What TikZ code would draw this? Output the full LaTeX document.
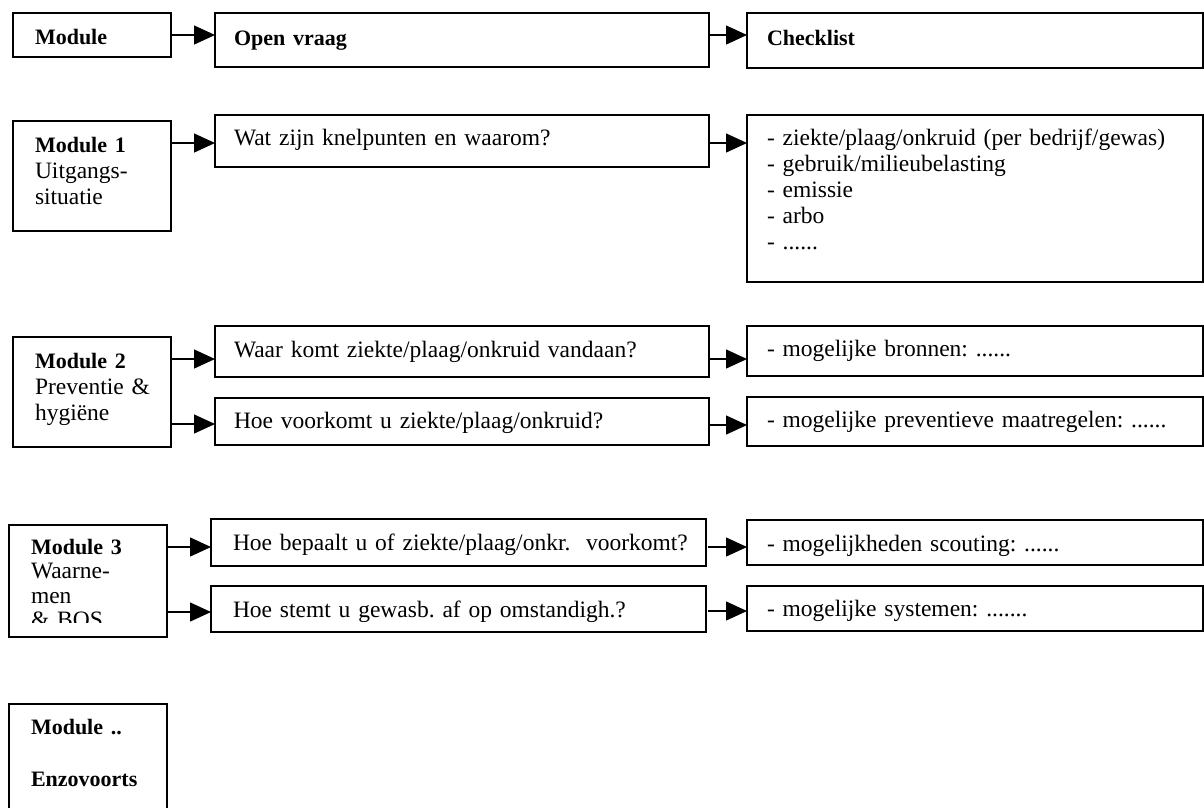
\documentclass[tikz,border=0pt]{standalone}
\usepackage{fontspec}
\setmainfont{Liberation Serif}
\usetikzlibrary{arrows.meta}
\newcommand\mybold[1]{{\fontsize{22}{26}\selectfont\bfseries #1}}
\tikzset{
  box/.style={draw, line width=1.3pt, inner sep=0pt, outer sep=0pt, anchor=north west},
  txt/.style={inner sep=0pt, outer sep=0pt, anchor=base west, align=left, text width=#1,
    font=\fontsize{23.5}{26}\selectfont\frenchspacing},
  txt/.default=600pt,
  arr/.style={line width=1.3pt, -{Triangle[length=21pt,width=19pt]}},
}
\begin{document}
\begin{tikzpicture}[x=1pt,y=-1pt]
\clip (0,0) rectangle (1204,807);
\fill[white] (0,0) rectangle (1204,807);
% boxes
\node[box, minimum width=158pt, minimum height=44pt]  (m0)  at (13,13)  {};
\node[box, minimum width=494pt, minimum height=54pt]  (q0)  at (215,13) {};
\node[box, minimum width=456pt, minimum height=55pt]  (c0)  at (747,13) {};
\node[box, minimum width=158pt, minimum height=110pt] (m1)  at (13,121) {};
\node[box, minimum width=494pt, minimum height=52pt]  (q1)  at (215,115) {};
\node[box, minimum width=456pt, minimum height=167pt] (c1)  at (747,115) {};
\node[box, minimum width=158pt, minimum height=110pt] (m2)  at (13,337) {};
\node[box, minimum width=494pt, minimum height=51pt]  (q2a) at (215,326) {};
\node[box, minimum width=456pt, minimum height=50pt]  (c2a) at (747,326) {};
\node[box, minimum width=494pt, minimum height=47pt]  (q2b) at (215,398) {};
\node[box, minimum width=456pt, minimum height=49pt]  (c2b) at (747,397) {};
\node[box, minimum width=158pt, minimum height=112pt] (m3)  at (9,525)  {};
\node[box, minimum width=495pt, minimum height=47pt]  (q3a) at (211,519) {};
\node[box, minimum width=456pt, minimum height=45pt]  (c3a) at (747,520) {};
\node[box, minimum width=495pt, minimum height=46pt]  (q3b) at (211,586) {};
\node[box, minimum width=456pt, minimum height=45pt]  (c3b) at (747,586) {};
\node[box, minimum width=158pt, minimum height=130pt] (m4)  at (9,704)  {};
% texts
\node[txt=140pt] (t-m0) at (35,44) {\mybold{Module}};
\node[txt] (t-q0) at (234,45) {\mybold{Open vraag}};
\node[txt] (t-c0) at (767,45) {\mybold{Checklist}};
\node[txt=140pt] (t-m1) at (35,152) {\mybold{Module 1}\\Uitgangs-\\situatie};
\node[txt] (t-q1) at (234,145) {Wat zijn knelpunten en waarom?};
\node[txt] (t-c1) at (767,145) {- ziekte/plaag/onkruid (per bedrijf/gewas)\\- gebruik/milieubelasting\\- emissie\\- arbo\\- ......};
\node[txt=140pt] (t-m2) at (35,368) {\mybold{Module 2}\\Preventie \&\\hygiëne};
\node[txt] (t-q2a) at (234,357) {Waar komt ziekte/plaag/onkruid vandaan?};
\node[txt] (t-c2a) at (767,356) {- mogelijke bronnen: ......};
\node[txt] (t-q2b) at (234,428) {Hoe voorkomt u ziekte/plaag/onkruid?};
\node[txt] (t-c2b) at (767,427) {- mogelijke preventieve maatregelen: ......};
\begin{scope}
\clip (10,526) rectangle (166,622);
\node[txt=140pt, font=\fontsize{23.5}{24.5}\selectfont] (t-m3) at (31,554) {\mybold{Module 3}\\Waarne-\\men\\\& BOS};
\end{scope}
\node[txt] (t-q3a) at (233,550) {Hoe bepaalt u of ziekte/plaag/onkr.\ \ voorkomt?};
\node[txt] (t-c3a) at (767,551) {- mogelijkheden scouting: ......};
\node[txt] (t-q3b) at (233,617) {Hoe stemt u gewasb. af op omstandigh.?};
\node[txt] (t-c3b) at (767,616) {- mogelijke systemen: .......};
\node[txt=140pt] (t-m4) at (31,734) {\mybold{Module ..}\\[26pt]\mybold{Enzovoorts}};
% arrows
\draw[arr] (m0.east |- 0,35)  -- (q0.west |- 0,35);
\draw[arr] (q0.east |- 0,35)  -- (c0.west |- 0,35);
\draw[arr] (m1.east |- 0,143) -- (q1.west |- 0,143);
\draw[arr] (q1.east |- 0,143) -- (c1.west |- 0,143);
\draw[arr] (m2.east |- 0,359) -- (q2a.west |- 0,359);
\draw[arr] (q2a.east |- 0,359) -- (c2a.west |- 0,359);
\draw[arr] (m2.east |- 0,424) -- (q2b.west |- 0,424);
\draw[arr] (q2b.east |- 0,425) -- (c2b.west |- 0,425);
\draw[arr] (m3.east |- 0,547) -- (q3a.west |- 0,547);
\draw[arr] ([xshift=2pt]q3a.east |- 0,547) -- (c3a.west |- 0,547);
\draw[arr] (m3.east |- 0,612) -- (q3b.west |- 0,612);
\draw[arr] ([xshift=2pt]q3b.east |- 0,611) -- (c3b.west |- 0,611);
\end{tikzpicture}
\end{document}
